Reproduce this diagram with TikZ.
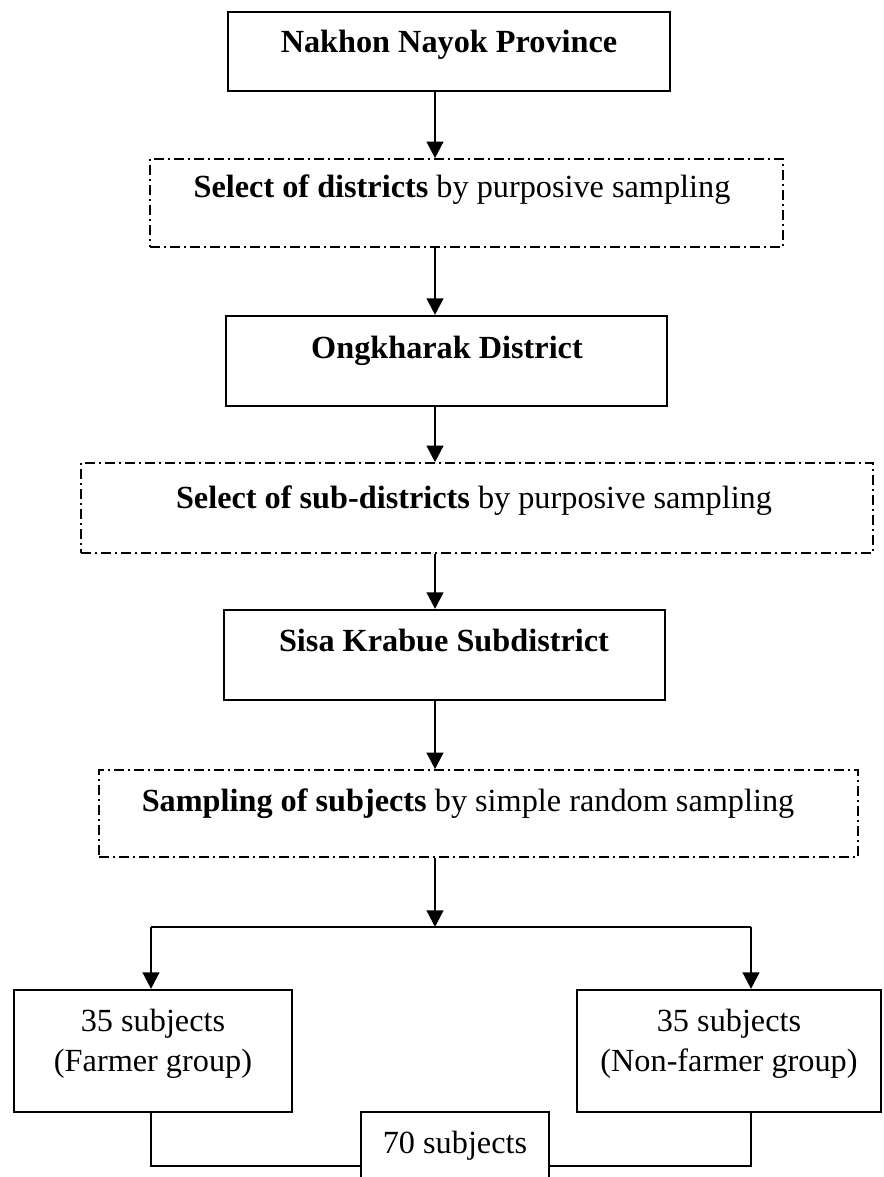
\documentclass[tikz,border=0pt]{standalone}
\usepackage{fontspec}
\setmainfont{Liberation Serif}
\usetikzlibrary{arrows.meta,fit}
\begin{document}
\begin{tikzpicture}[x=0.75pt,y=-0.75pt,
  solidbox/.style={draw=black,line width=1.6pt,inner sep=0pt},
  dashbox/.style={draw=black,line width=1.2pt,inner sep=0pt,
    dash pattern=on 7.5pt off 3pt on 1.5pt off 3pt},
  lbl/.style={anchor=base,inner sep=0pt,font=\fontsize{24.2}{29}\selectfont},
  conn/.style={line width=1.8pt},
  arr/.style={conn,-{Triangle[length=12.5pt,width=12.5pt]}}]
\useasboundingbox (0,0) rectangle (883,1177);
\clip (0,0) rectangle (883,1177);
% boxes
\node[solidbox,fit={(228,12) (670,91)}] (n1) {};
\node[dashbox,fit={(150,159) (783,247)}] (n2) {};
\node[solidbox,fit={(226,316) (667,406)}] (n3) {};
\node[dashbox,fit={(81,463) (873,553)}] (n4) {};
\node[solidbox,fit={(224,610) (665,700)}] (n5) {};
\node[dashbox,fit={(99,770) (858,857)}] (n6) {};
\node[solidbox,fit={(14,990) (292,1112)}] (farmer) {};
\node[solidbox,fit={(577,990) (881,1112)}] (nonfarmer) {};
\node[solidbox,fit={(361,1112) (549,1195)}] (total) {};
% texts
\node[lbl] (t1) at (449,53) {\textbf{Nakhon Nayok Province}};
\node[lbl] (t2) at (462,197) {\textbf{Select of districts} by purposive sampling};
\node[lbl] (t3) at (447,358) {\textbf{Ongkharak District}};
\node[lbl] (t4) at (474,508) {\textbf{Select of sub-districts} by purposive sampling};
\node[lbl] (t5) at (444,651) {\textbf{Sisa Krabue Subdistrict}};
\node[lbl] (t6) at (468,811) {\textbf{Sampling of subjects} by simple random sampling};
\node[lbl] (f1) at (153,1031) {35 subjects};
\node[lbl] (f2) at (153,1071) {(Farmer group)};
\node[lbl] (g1) at (729,1031) {35 subjects};
\node[lbl] (g2) at (729,1071) {(Non-farmer group)};
\node[lbl] (h1) at (455,1153) {70 subjects};
% helper coordinates
\coordinate (ax) at (435,0);
\coordinate (lx) at (151,0);
\coordinate (rx) at (751,0);
\coordinate (split) at (435,927);
\coordinate (by) at (0,1166);
% connectors
\draw[arr] (n1.south -| ax) -- (n2.north -| ax);
\draw[arr] (n2.south -| ax) -- (n3.north -| ax);
\draw[arr] (n3.south -| ax) -- (n4.north -| ax);
\draw[arr] (n4.south -| ax) -- (n5.north -| ax);
\draw[arr] (n5.south -| ax) -- (n6.north -| ax);
\draw[arr] (n6.south -| ax) -- (split);
\draw[conn] (split -| lx) -- (split -| rx);
\draw[arr] (split -| lx) -- (farmer.north -| lx);
\draw[arr] (split -| rx) -- (nonfarmer.north -| rx);
\draw[conn] (farmer.south -| lx) |- (total.west |- by);
\draw[conn] (nonfarmer.south -| rx) |- (total.east |- by);
\end{tikzpicture}
\end{document}
